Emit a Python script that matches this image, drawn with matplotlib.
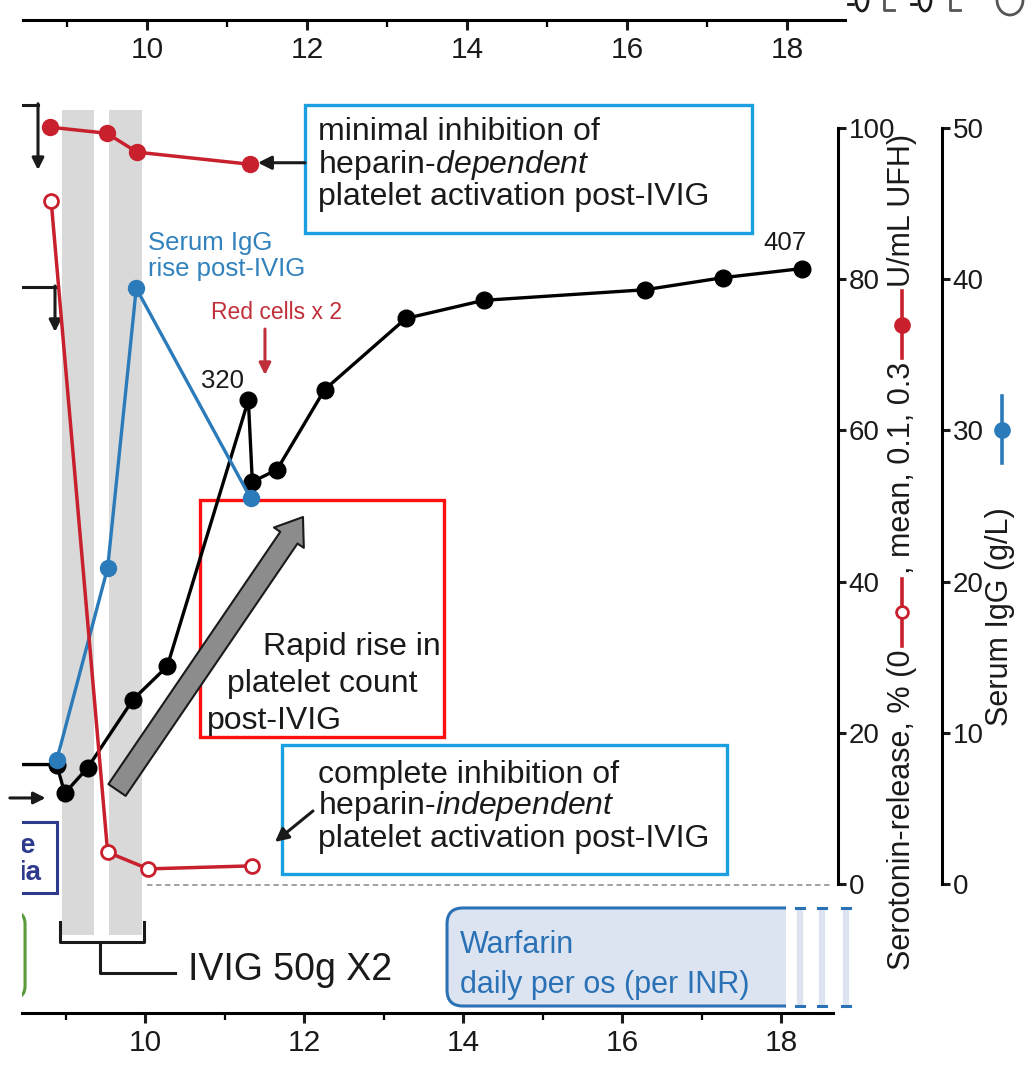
import matplotlib
matplotlib.use('Agg')
import matplotlib.pyplot as plt
from matplotlib.patches import Rectangle, FancyBboxPatch, FancyArrowPatch, Arc
from matplotlib.lines import Line2D

W, H = 1035, 1068
plt.rcParams['font.family'] = ['Liberation Sans', 'DejaVu Sans']
plt.rcParams['mathtext.fontset'] = 'custom'
plt.rcParams['mathtext.rm'] = 'Liberation Sans'
plt.rcParams['mathtext.it'] = 'Liberation Sans:italic'

# ---------------- data ----------------
platelet_days = [8.0, 8.89, 8.99, 9.28, 9.85, 10.28, 11.30, 11.35, 11.66, 12.26, 13.28, 14.26, 16.29, 17.27, 18.26]
platelet_count = [79, 79, 60, 77, 122, 144, 320, 266, 274, 327, 374, 386, 393, 401, 407]
sr_dep_days = [8.81, 9.52, 9.90, 11.32]
sr_dep_values = [100.1, 99.3, 96.8, 95.2]
sr_ind_days = [8.82, 9.53, 10.04, 11.35]
sr_ind_values = [90.3, 4.2, 2.0, 2.4]
igg_days = [8.89, 9.53, 9.89, 11.33]
igg_values = [8.2, 20.9, 39.4, 25.5]
ivig_start = [8.96, 9.55]
ivig_end = [9.36, 9.96]
day_ticks = [10, 12, 14, 16, 18]
day_minor = [9, 11, 13, 15, 17]
sero_ticks = [0, 20, 40, 60, 80, 100]
igg_ticks = [0, 10, 20, 30, 40, 50]

RED = '#c8202d'
BLUE = '#2b7bba'
CYAN = '#1aa0e0'
TXT = '#1a1a1a'
WBLUE = '#2a72b5'

fig = plt.figure(figsize=(W / 100, H / 100), dpi=100)


def fx(px):
    return px / W


def fy(py):
    return 1 - py / H


def style_x(a, labelsize=21.5):
    for s in ['top', 'left', 'right']:
        a.spines[s].set_visible(False)
    a.spines['bottom'].set_linewidth(2.2)
    a.set_xticks(day_ticks)
    a.set_xticklabels([str(d) for d in day_ticks])
    a.set_xticks(day_minor, minor=True)
    a.tick_params(axis='x', which='major', direction='out', length=7.2, width=2.2,
                  labelsize=labelsize, pad=4, colors=TXT)
    a.tick_params(axis='x', which='minor', direction='out', length=5, width=1.6)
    a.set_yticks([])
    a.patch.set_visible(False)


# ---------------- upper panel remnant axis ----------------
axt = fig.add_axes([fx(23), fy(20), (845 - 23) / W, 20 / H])
axt.set_xlim(8.45, 18.725)
style_x(axt)

# ---------------- main axes ----------------
ax = fig.add_axes([fx(22), fy(1013), 811 / W, (1013 - 60) / H])
Y0, Y1 = -17.063, 108.99
ax.set_xlim(8.4528, 18.654)
ax.set_ylim(Y0, Y1)
style_x(ax)
ax.yaxis.set_visible(False)

# IVIG shading
for s, e in zip(ivig_start, ivig_end):
    ax.add_patch(Rectangle((s, -6.75), e - s, 102.4 + 6.75, color='#d9d9d9', lw=0, zorder=0))

# baseline dashed line
ax.plot([10.025, 18.654], [-0.15, -0.15], color='#9a9a9a', lw=1.3, ls=(0, (3, 2)), zorder=1)

# IVIG bracket
ax.plot([8.931, 8.931, 9.987, 9.987], [-5.03, -7.67, -7.67, -5.03], color=TXT, lw=2.2, clip_on=False)
ax.plot([9.434, 9.434, 10.377], [-7.67, -11.77, -11.77], color=TXT, lw=2.2, clip_on=False)
ax.text(10.541, -11.38, 'IVIG 50g X2', fontsize=27, color=TXT, ha='left', va='center')

# Warfarin box (open to the right)
wb = FancyBboxPatch((13.799, -16.14), 18.063 - 13.799 + 0.6, 12.97,
                    boxstyle='round,pad=0,rounding_size=0.2', mutation_aspect=79.5 / 7.56,
                    fc='#dce4f2', ec=WBLUE, lw=2.2, zorder=2)
ax.add_patch(wb)
clip = Rectangle((13.5, -20), 18.063 - 13.5, 30, transform=ax.transData)
wb.set_clip_path(clip)
for xs in [18.239, 18.516, 18.818]:
    ax.add_line(Line2D([xs, xs], [-3.6, -15.7], lw=4.5, color='#dce4f2', clip_on=False))
    for yy in [-3.17, -16.14]:
        ax.add_line(Line2D([xs - 0.05, xs + 0.05], [yy, yy], lw=2.2, color=WBLUE, clip_on=False))
ax.text(13.962, -9.13, 'Warfarin', fontsize=22, color=WBLUE, ha='left', va='baseline', zorder=3)
ax.text(13.962, -14.42, 'daily per os (per INR)', fontsize=22, color=WBLUE, ha='left', va='baseline', zorder=3)

# left-edge fragments
ax.plot([8.3, 8.654], [103.04, 103.04], color=TXT, lw=2.2)
ax.annotate('', xy=(8.654, 94.44), xytext=(8.654, 103.2),
            arrowprops=dict(arrowstyle='-|>,head_length=0.7,head_width=0.35', color=TXT, lw=2.2,
                            shrinkA=0, shrinkB=0))
ax.plot([8.3, 8.868], [78.97, 78.97], color=TXT, lw=2.2)
ax.annotate('', xy=(8.868, 73.02), xytext=(8.868, 79.1),
            arrowprops=dict(arrowstyle='-|>,head_length=0.7,head_width=0.35', color=TXT, lw=2.2,
                            shrinkA=0, shrinkB=0))
ax.annotate('', xy=(8.75, 11.38), xytext=(8.3, 11.38),
            arrowprops=dict(arrowstyle='-|>,head_length=0.7,head_width=0.35', color=TXT, lw=2.2,
                            shrinkA=0, shrinkB=0))
ax.add_patch(Rectangle((8.2, -1.19), 0.693, 9.39, fc='none', ec='#2e3a8c', lw=2.2))
ax.text(8.625, 4.1, 'e', fontsize=20, color='#2e3a8c', ha='right', va='baseline', fontweight='bold', clip_on=True)
ax.text(8.69, 0.53, 'ia', fontsize=20, color='#2e3a8c', ha='right', va='baseline', fontweight='bold', clip_on=True)
gb = FancyBboxPatch((7.9, -15.08), 0.591, 11.38, boxstyle='round,pad=0,rounding_size=0.15',
                    mutation_aspect=79.5 / 7.56, fc='none', ec='#5a9a3a', lw=2.2)
ax.add_patch(gb)

# annotation boxes
ax.add_patch(Rectangle((12.013, 86.11), 5.622, 16.93, fc='none', ec=CYAN, lw=2.4, zorder=3))
for s, yb in zip(['minimal inhibition of', r'heparin-$\mathit{dependent}$', 'platelet activation post-IVIG'],
                 [98.41, 94.05, 89.81]):
    ax.text(12.176, yb, s, fontsize=23, color=TXT, ha='left', va='baseline')
ax.annotate('', xy=(11.42, 95.4), xytext=(12.013, 95.4),
            arrowprops=dict(arrowstyle='-|>,head_length=0.8,head_width=0.4', color=TXT, lw=2.2,
                            shrinkA=0, shrinkB=0))

ax.add_patch(Rectangle((11.723, 1.32), 5.598, 17.07, fc='none', ec=CYAN, lw=2.4, zorder=3))
for s, yb in zip(['complete inhibition of', r'heparin-$\mathit{independent}$', 'platelet activation post-IVIG'],
                 [13.36, 9.26, 4.89]):
    ax.text(12.176, yb, s, fontsize=23, color=TXT, ha='left', va='baseline')
ax.annotate('', xy=(11.635, 5.56), xytext=(12.113, 9.66),
            arrowprops=dict(arrowstyle='-|>,head_length=0.8,head_width=0.4', color=TXT, lw=2.2,
                            shrinkA=0, shrinkB=0))

ax.add_patch(Rectangle((10.692, 19.44), 3.069, 31.35, fc='none', ec='#ff1010', lw=2.4, zorder=3))
for s, xl, yb in zip(['Rapid rise in', 'platelet count', 'post-IVIG'],
                     [11.484, 11.031, 10.780], [30.29, 25.40, 20.50]):
    ax.text(xl, yb, s, fontsize=23, color=TXT, ha='left', va='baseline')
ax.add_patch(FancyArrowPatch((9.648, 12.43), (11.987, 48.54),
                             arrowstyle='simple,head_length=1.8,head_width=2.6,tail_width=1.5',
                             mutation_scale=10, fc='#8c8c8c', ec=TXT, lw=1.5, shrinkA=0, shrinkB=0, zorder=3))

ax.text(11.648, 75.53, 'Red cells x 2', fontsize=16.5, color='#c0303a', ha='center', va='center')
ax.annotate('', xy=(11.509, 67.33), xytext=(11.509, 73.4),
            arrowprops=dict(arrowstyle='-|>,head_length=0.7,head_width=0.35', color='#c0303a', lw=2.2,
                            shrinkA=0, shrinkB=0))
ax.text(10.038, 83.86, 'Serum IgG', fontsize=18.5, color='#3182bd', ha='left', va='baseline')
ax.text(10.038, 80.42, 'rise post-IVIG', fontsize=18.5, color='#3182bd', ha='left', va='baseline')
ax.text(10.969, 66.53, '320', fontsize=18.5, color=TXT, ha='center', va='center')
ax.text(18.05, 84.79, '407', fontsize=18.5, color=TXT, ha='center', va='center')

# ---------------- data series ----------------
axp = ax.twinx()
axp.set_ylim(Y0 * 5, Y1 * 5)
axp.axis('off')
axp.plot(platelet_days, platelet_count, color='black', lw=2.4, marker='o', ms=12, zorder=3)

axi = ax.twinx()
axi.set_ylim(Y0 / 2, Y1 / 2)
axi.axis('off')
axi.plot(igg_days, igg_values, color=BLUE, lw=2.4, marker='o', ms=11.5, zorder=3)

axr = ax.twinx()
axr.set_ylim(Y0, Y1)
axr.axis('off')
axr.plot(sr_dep_days, sr_dep_values, color=RED, lw=2.5, marker='o', ms=11.5, zorder=3)
axr.plot(sr_ind_days, sr_ind_values, color=RED, lw=2.5, marker='o', ms=10, mfc='white', mec=RED, mew=2, zorder=3)
for a in (axp, axi, axr):
    a.set_xlim(8.4528, 18.654)


# ---------------- right-hand y axes ----------------
def right_axis(xpix, lim, ticks):
    a = fig.add_axes([fx(xpix) - 1 / W, fy(884), 1 / W, 756 / H])
    a.set_ylim(*lim)
    for s in ['top', 'left', 'bottom']:
        a.spines[s].set_visible(False)
    a.spines['right'].set_linewidth(2.2)
    a.yaxis.tick_right()
    a.set_yticks(ticks)
    a.set_yticklabels([str(t) for t in ticks])
    a.set_xticks([])
    a.tick_params(axis='y', direction='out', length=5.5, width=2.2, labelsize=20, pad=2, colors=TXT)
    a.patch.set_visible(False)
    return a


right_axis(838, (0, 100), sero_ticks)
right_axis(942, (0, 50), igg_ticks)

# ---------------- composite axis labels ----------------
renderer = fig.canvas.get_renderer()
LBL = 22


def vtext(s, x, ybot):
    t = fig.text(fx(x), fy(ybot), s, rotation=90, ha='center', va='bottom', fontsize=LBL, color=TXT)
    bb = t.get_window_extent(renderer=renderer)
    return H - bb.y1


def vmarker(x, ybot, length, color, filled):
    fig.add_artist(Line2D([fx(x), fx(x)], [fy(ybot), fy(ybot - length)], color=color, lw=2.6,
                          transform=fig.transFigure))
    fig.add_artist(Line2D([fx(x)], [fy(ybot - length / 2)], marker='o', ms=10 if filled else 8.5,
                          mfc=color if filled else 'white', mec=color, mew=2, color=color,
                          transform=fig.transFigure))
    return ybot - length


yc = 970
yc = vtext('Serotonin-release, % (0', 902, yc) - 4
yc = vmarker(902, yc, 67, RED, False) - 4
yc = vtext(', mean, 0.1, 0.3', 902, yc) - 4
yc = vmarker(902, yc, 67, RED, True) - 4
yc = vtext('U/mL UFH)', 902, yc)

vtext('Serum IgG (g/L)', 1000, 726)
vmarker(1002, 463, 67, BLUE, True)

# top-right fragments of the upper panel (bottoms of cut-off glyphs)
for xc in [862, 925]:
    fig.add_artist(Arc((fx(xc), fy(0)), 12 / W, 22 / H, theta1=180, theta2=360, lw=2,
                       color=TXT, transform=fig.transFigure))
    fig.add_artist(Line2D([fx(xc - 14), fx(xc - 9)], [fy(4), fy(4)], lw=2, color=TXT,
                          transform=fig.transFigure))
for xc in [884, 950]:
    fig.add_artist(Line2D([fx(xc), fx(xc), fx(xc + 10)], [fy(0), fy(10), fy(10)], lw=2, color='#555555',
                          transform=fig.transFigure))
fig.add_artist(Arc((fx(1010), fy(0)), 26 / W, 30 / H, theta1=180, theta2=360, lw=2,
                   color='#555555', transform=fig.transFigure))

fig.savefig('out.png', dpi=100)
